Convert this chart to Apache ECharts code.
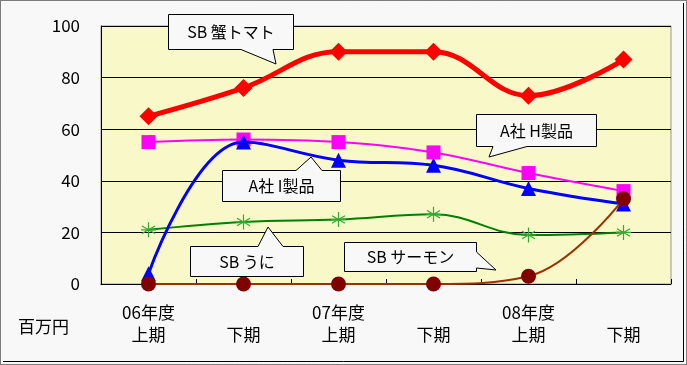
<!DOCTYPE html>
<html><head><meta charset="utf-8">
<script src="https://cdn.jsdelivr.net/npm/echarts@6/dist/echarts.min.js"></script>
<style>html,body{margin:0;padding:0;background:#f8f8f8}#c{width:687px;height:365px}</style>
</head><body><div id="c"></div>
<script>
const categories = ["06年度\n上期", " \n下期", "07年度\n上期", " \n下期", "08年度\n上期", " \n下期"];
const yTicks = [0, 20, 40, 60, 80, 100];
const kaniTomato = [65, 76, 90, 90, 73, 87];
const aH = [55, 56, 55, 51, 43, 36];
const aI = [4, 55, 48, 46, 37, 31];
const uni = [21, 24, 25, 27, 19, 20];
const salmon = [0, 0, 0, 0, 3, 33];
const unitLabel = "百万円";
const callouts = ["SB 蟹トマト", "A社 H製品", "A社 I製品", "SB うに", "SB サーモン"];

const FONT = '"Noto Sans CJK JP", "Noto Sans", sans-serif';
const chart = echarts.init(document.getElementById('c'));

function callout(text, box, ptr, tip) {
  const [x1, y1, x2, y2] = box;
  return [
    { type: 'polygon', z: 100, shape: { points: buildPoly(box, ptr, tip) },
      style: { fill: '#f8f8f8', stroke: '#000', lineWidth: 1 } },
    { type: 'text', z: 101, x: (x1 + x2) / 2, y: (y1 + y2) / 2,
      style: { text: text, font: '16px ' + FONT, fill: '#000', align: 'center', verticalAlign: 'middle' } }
  ];
}
function buildPoly(box, ptr, tip) {
  const [x1, y1, x2, y2] = box;
  const [edge, a, b] = ptr;
  if (edge === 'bottom') return [[x1,y1],[x2,y1],[x2,y2],[b,y2],tip,[a,y2],[x1,y2]];
  if (edge === 'top') return [[x1,y1],[a,y1],tip,[b,y1],[x2,y1],[x2,y2],[x1,y2]];
  if (edge === 'right') return [[x1,y1],[x2,y1],[x2,a],tip,[x2,b],[x2,y2],[x1,y2]];
  return [];
}

const asterisk = 'path://M0,-10L0,10M-8.66,-5L8.66,5M-8.66,5L8.66,-5M-10,0L10,0';

const option = {
  backgroundColor: '#f8f8f8',
  animation: false,
  grid: { left: 101, top: 26, right: 16, bottom: 81, show: true, backgroundColor: '#f8f8c8', borderColor: '#999', borderWidth: 1 },
  xAxis: {
    type: 'category', data: categories, boundaryGap: true,
    axisLine: { lineStyle: { color: '#000', width: 1 } },
    axisTick: { show: true, inside: true, length: 5, lineStyle: { color: '#000' } },
    axisLabel: { color: '#000', fontSize: 17, fontFamily: FONT, lineHeight: 22, margin: 18, interval: 0 }
  },
  yAxis: {
    type: 'value', min: yTicks[0], max: yTicks[yTicks.length - 1], interval: 20,
    axisLine: { show: true, lineStyle: { color: '#000', width: 1 } },
    axisTick: { show: false },
    splitLine: { lineStyle: { color: '#000', width: 1 } },
    axisLabel: { color: '#000', fontSize: 17, fontFamily: FONT, margin: 21 }
  },
  series: [
    { name: 'SB うに', type: 'line', data: uni, smooth: 0.4, symbol: asterisk, symbolSize: 15,
      lineStyle: { color: '#008000', width: 2 },
      itemStyle: { color: '#33aa33', borderColor: '#33aa33', borderWidth: 1.2 }, z: 2 },
    { name: 'A社 H製品', type: 'line', data: aH, smooth: 0.4, symbol: 'rect', symbolSize: 14,
      lineStyle: { color: '#ff00ff', width: 2 }, itemStyle: { color: '#ff00ff', borderWidth: 0 }, z: 3 },
    { name: 'A社 I製品', type: 'line', data: aI, smooth: 0.4, symbol: 'triangle', symbolSize: 15,
      lineStyle: { color: '#0000ff', width: 3 }, itemStyle: { color: '#0000ff', borderWidth: 0 }, z: 4 },
    { name: 'SB 蟹トマト', type: 'line', data: kaniTomato, smooth: 0.4, symbol: 'diamond', symbolSize: 18,
      lineStyle: { color: '#ff0000', width: 5 }, itemStyle: { color: '#ff0000', borderWidth: 0 }, z: 5 },
    { name: 'SB サーモン', type: 'line', data: salmon, smooth: 0.4, symbol: 'circle', symbolSize: 15,
      lineStyle: { color: '#993300', width: 2 }, itemStyle: { color: '#800000', borderWidth: 0 }, z: 6 }
  ],
  graphic: [
    { type: 'rect', z: 200, shape: { x: 0.5, y: 0.5, width: 686, height: 364 },
      style: { fill: 'none', stroke: '#000', lineWidth: 1, lineDash: [1, 1] } },
    { type: 'polyline', z: 200, shape: { points: [[683.5, 3], [683.5, 361.5], [3, 361.5]] },
      style: { stroke: '#000', lineWidth: 1, fill: 'none' } },
    { type: 'text', x: 18, y: 327,
      style: { text: unitLabel, font: '17px ' + FONT, fill: '#000', verticalAlign: 'middle' } },
    ...callout(callouts[0], [168.5, 14.5, 293.5, 49.5], ['bottom', 241, 273], [276, 64]),
    ...callout(callouts[1], [476.5, 114.5, 596.5, 146.5], ['bottom', 493, 527], [489, 157]),
    ...callout(callouts[2], [222.5, 170.5, 340.5, 201.5], ['top', 296, 322], [311, 157]),
    ...callout(callouts[3], [190.5, 246.5, 303.5, 276.5], ['top', 258, 283], [268, 227]),
    ...callout(callouts[4], [344.5, 242.5, 476.5, 271.5], ['right', 252, 268], [496, 270])
  ]
};
chart.setOption(option);
</script>
</body></html>
